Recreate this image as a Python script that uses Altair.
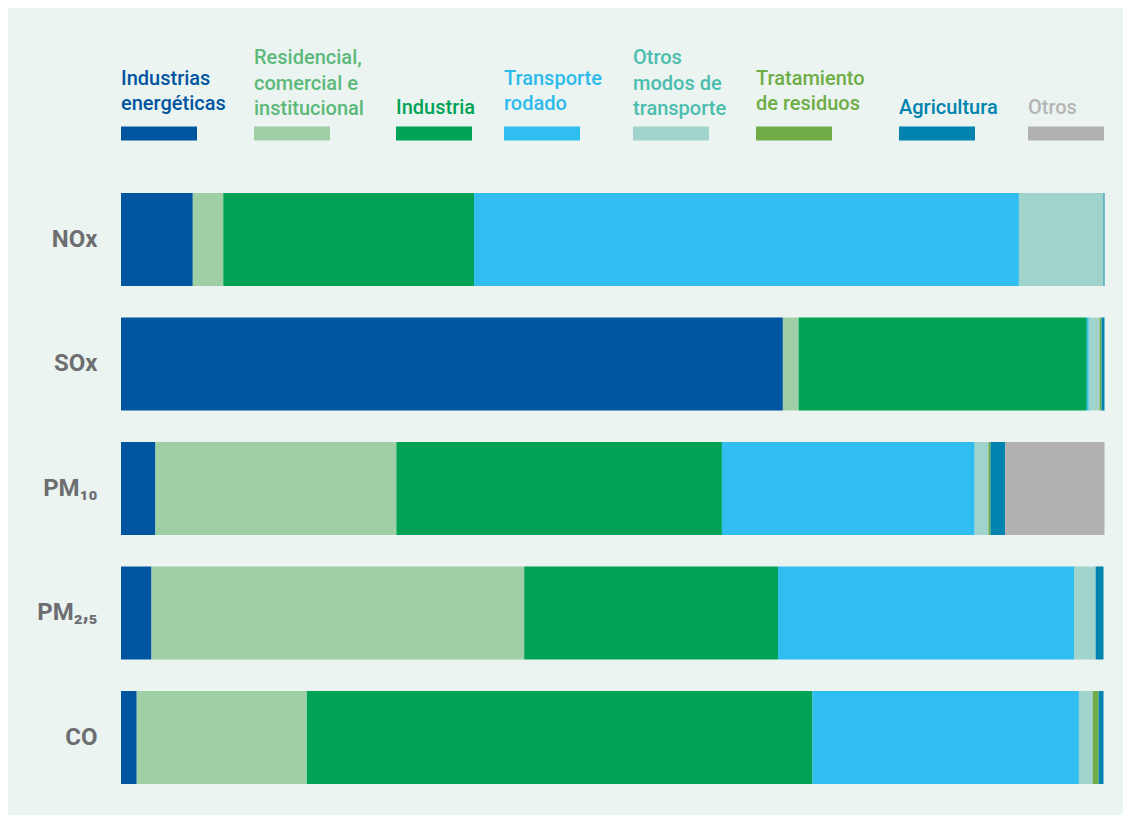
import altair as alt
import pandas as pd

contaminantes = ["NOx", "SOx", "PM₁₀", "PM₂,₅", "CO"]
sectores = [
    "Industrias energéticas",
    "Residencial, comercial e institucional",
    "Industria",
    "Transporte rodado",
    "Otros modos de transporte",
    "Tratamiento de residuos",
    "Agricultura",
    "Otros",
]
etiquetas = [
    "Industrias\nenergéticas",
    "Residencial,\ncomercial e\ninstitucional",
    "Industria",
    "Transporte\nrodado",
    "Otros\nmodos de\ntransporte",
    "Tratamiento\nde residuos",
    "Agricultura",
    "Otros",
]

# percentage share of each sector, per pollutant (NOx, SOx, PM10, PM2.5, CO)
ind_energeticas = [7.3, 67.3, 3.5, 3.1, 1.6]
residencial = [3.1, 1.6, 24.5, 37.9, 17.3]
industria = [25.5, 29.3, 33.1, 25.8, 51.4]
transporte_rodado = [55.4, 0.2, 25.7, 30.1, 27.1]
otros_modos = [8.6, 1.1, 1.4, 2.2, 1.4]
residuos = [0.0, 0.2, 0.2, 0.0, 0.6]
agricultura = [0.1, 0.3, 1.5, 0.8, 0.5]
otros = [0.0, 0.0, 10.1, 0.0, 0.0]

series = [ind_energeticas, residencial, industria, transporte_rodado,
          otros_modos, residuos, agricultura, otros]

colores_barra = ["#0055A1", "#9FCFA4", "#00A356", "#30BDF0",
                 "#A0D3CB", "#70AD46", "#0083AE", "#B1B1B1"]
colores_texto = ["#0055A1", "#5DB97A", "#00A356", "#2DBAEC",
                 "#4BBDAE", "#6EAD46", "#0083AE", "#B5B5B5"]

filas = []
for i, (sec, vals) in enumerate(zip(sectores, series)):
    for c, v in zip(contaminantes, vals):
        filas.append({"contaminante": c, "sector": sec, "valor": v, "orden": i})
df = pd.DataFrame(filas)

df_leg = pd.DataFrame({"sector": sectores, "etiqueta": etiquetas,
                       "orden": list(range(len(sectores)))})

# legend entry centres (library scale range, piecewise over entry order)
centros_leyenda = [38, 171, 313, 421, 550, 673, 816, 945]
lineas_alto = 25.3

barras = alt.Chart(df).mark_bar().encode(
    x=alt.X("valor:Q", stack="zero",
            scale=alt.Scale(domain=[0, 100], nice=False, zero=True), axis=None),
    y=alt.Y("contaminante:N", sort=contaminantes,
            scale=alt.Scale(domain=contaminantes, paddingInner=0.253, paddingOuter=0.1265),
            axis=alt.Axis(title=None, domain=False, ticks=False, labelFont="Roboto",
                          labelFontSize=24, labelFontWeight="bold",
                          labelColor="#6D6E71", labelPadding=24)),
    color=alt.Color("sector:N", scale=alt.Scale(domain=sectores, range=colores_barra),
                    legend=None),
    order=alt.Order("orden:Q"),
)

x_leg = alt.X("orden:Q",
              scale=alt.Scale(domain=list(range(len(sectores))), range=centros_leyenda,
                              nice=False, zero=False),
              axis=None)

cuadros = alt.Chart(df_leg).mark_tick(orient="horizontal", size=76, thickness=14,
                                      opacity=1).encode(
    x=x_leg,
    y=alt.value(-43.75),
    color=alt.Color("sector:N", scale=alt.Scale(domain=sectores, range=colores_barra),
                    legend=None),
)

textos = alt.Chart(df_leg).transform_calculate(
    nlineas="length(split(datum.etiqueta, '\\n'))"
).mark_text(align="left", baseline="bottom", dx=-38,
            font="Roboto", fontSize=20, fontWeight=500,
            lineBreak="\n", lineHeight=lineas_alto).encode(
    x=x_leg,
    y=alt.Y("nlineas:Q",
            scale=alt.Scale(domain=[1, 2, 3], range=[-59.5, -88.5, -109],
                            nice=False, zero=False),
            axis=None),
    text="etiqueta:N",
    color=alt.Color("sector:N", scale=alt.Scale(domain=sectores, range=colores_texto),
                    legend=None),
)

chart = alt.layer(barras, cuadros, textos).resolve_scale(
    x="independent", y="independent", color="independent"
).properties(
    width=983.5, height=622.5,
    padding={"left": 113, "top": 169.25, "right": 18.5, "bottom": 15.25},
    autosize=alt.AutoSizeParams(type="none"),
    background="#EBF4F1",
).configure_view(stroke=None)

chart.save("out.html", embed_options={"renderer": "svg", "actions": False})
